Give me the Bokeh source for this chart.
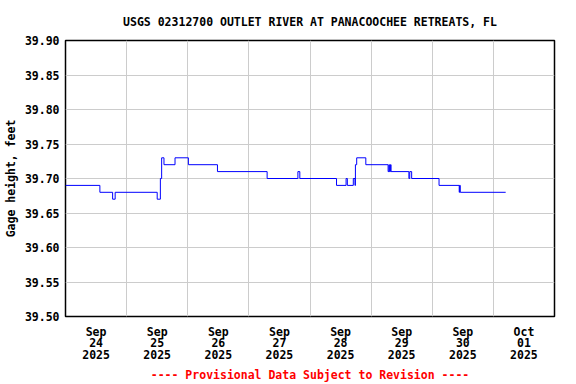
import pandas as pd
from bokeh.plotting import figure
from bokeh.models import FixedTicker, Range1d, PrintfTickFormatter
from bokeh.embed import file_html
from bokeh.resources import INLINE

# ---- data (step series: value holds from its time until the next time) ----
times = [
    "2025-09-24 00:00", "2025-09-24 13:30", "2025-09-24 18:30", "2025-09-24 19:30",
    "2025-09-25 12:00", "2025-09-25 13:15", "2025-09-25 13:45", "2025-09-25 14:40",
    "2025-09-25 19:00", "2025-09-26 00:15", "2025-09-26 11:40", "2025-09-27 07:10",
    "2025-09-27 19:15", "2025-09-27 20:00", "2025-09-28 10:25", "2025-09-28 14:10",
    "2025-09-28 14:40", "2025-09-28 17:00", "2025-09-28 17:40", "2025-09-28 17:50",
    "2025-09-28 18:20", "2025-09-28 21:55", "2025-09-29 06:40", "2025-09-29 07:00",
    "2025-09-29 07:10", "2025-09-29 07:35", "2025-09-29 07:50", "2025-09-29 14:50",
    "2025-09-29 15:10", "2025-09-29 15:55", "2025-09-30 02:40", "2025-09-30 10:35",
    "2025-09-30 10:45", "2025-09-30 11:00", "2025-10-01 04:50",
]
gage_height = [
    39.69, 39.68, 39.67, 39.68,
    39.67, 39.70, 39.73, 39.72,
    39.73, 39.72, 39.71, 39.70,
    39.71, 39.70, 39.69, 39.70,
    39.69, 39.70, 39.69, 39.72,
    39.73, 39.72, 39.71, 39.72,
    39.71, 39.72, 39.71, 39.70,
    39.71, 39.70, 39.69, 39.68,
    39.69, 39.68, 39.68,
]
tick_days = ["2025-09-24", "2025-09-25", "2025-09-26", "2025-09-27",
             "2025-09-28", "2025-09-29", "2025-09-30", "2025-10-01"]
tick_labels = ["Sep\n24\n2025", "Sep\n25\n2025", "Sep\n26\n2025", "Sep\n27\n2025",
               "Sep\n28\n2025", "Sep\n29\n2025", "Sep\n30\n2025", "Oct\n01\n2025"]
y_ticks = [39.50, 39.55, 39.60, 39.65, 39.70, 39.75, 39.80, 39.85, 39.90]

title = "USGS 02312700 OUTLET RIVER AT PANACOOCHEE RETREATS, FL"
y_label = "Gage height, feet"
note = "---- Provisional Data Subject to Revision ----"

# ---- build ----
x = pd.to_datetime(times)
DAY = 86400000.0
noon_ms = [float(pd.Timestamp(d + " 12:00").value // 10**6) for d in tick_days]
midnight_ms = [t - DAY / 2 for t in noon_ms[1:]]
x_start = pd.Timestamp(tick_days[0])
x_end = pd.Timestamp(tick_days[-1]) + pd.Timedelta(days=1)

FONT = "DejaVu Sans Mono"
FS = "11.5px"

p = figure(frame_width=489, frame_height=276, x_axis_type="datetime",
           output_backend="svg", toolbar_location=None,
           x_range=Range1d(x_start, x_end), y_range=Range1d(39.50, 39.90),
           min_border_left=57, min_border_right=14, min_border_top=40,
           min_border_bottom=60, title=title)

p.title.align = "center"
p.title.text_font = FONT
p.title.text_font_size = FS
p.title.text_font_style = "bold"
p.title.text_color = "black"
p.title.standoff = 24

p.step(x, gage_height, mode="after", line_color="#0000ff", line_width=1)

p.outline_line_color = "black"
p.outline_line_width = 1.5

for ax in (p.xaxis[0], p.yaxis[0]):
    ax.axis_line_color = None
    ax.major_tick_line_color = None
    ax.minor_tick_line_color = None
    ax.major_tick_out = 0
    ax.major_tick_in = 0
    ax.minor_tick_out = 0
    ax.minor_tick_in = 0
    ax.major_label_text_font = FONT
    ax.major_label_text_font_size = FS
    ax.major_label_text_font_style = "bold"
    ax.major_label_text_color = "black"
    ax.axis_label_text_font = FONT
    ax.axis_label_text_font_size = FS
    ax.axis_label_text_font_style = "bold"
    ax.axis_label_text_line_height = 1.0

p.yaxis.ticker = FixedTicker(ticks=y_ticks)
p.yaxis.formatter = PrintfTickFormatter(format="%.2f")
p.yaxis.major_label_standoff = 6
p.yaxis.axis_label = y_label
p.yaxis.axis_label_standoff = 4
p.yaxis.axis_label_text_color = "black"

p.xaxis.ticker = FixedTicker(ticks=noon_ms)
p.xaxis.major_label_overrides = {t: lab for t, lab in zip(noon_ms, tick_labels)}
p.xaxis.major_label_standoff = 8
p.xaxis.major_label_text_line_height = 0.85
p.xaxis.axis_label = note
p.xaxis.axis_label_text_color = "#ff0000"
p.xaxis.axis_label_standoff = 3

p.xgrid.ticker = FixedTicker(ticks=midnight_ms)
p.xgrid.grid_line_color = "#cccccc"
p.ygrid.grid_line_color = "#cccccc"
p.xgrid.grid_line_width = 1
p.ygrid.grid_line_width = 1

open("out.html", "w").write(file_html(p, INLINE))
